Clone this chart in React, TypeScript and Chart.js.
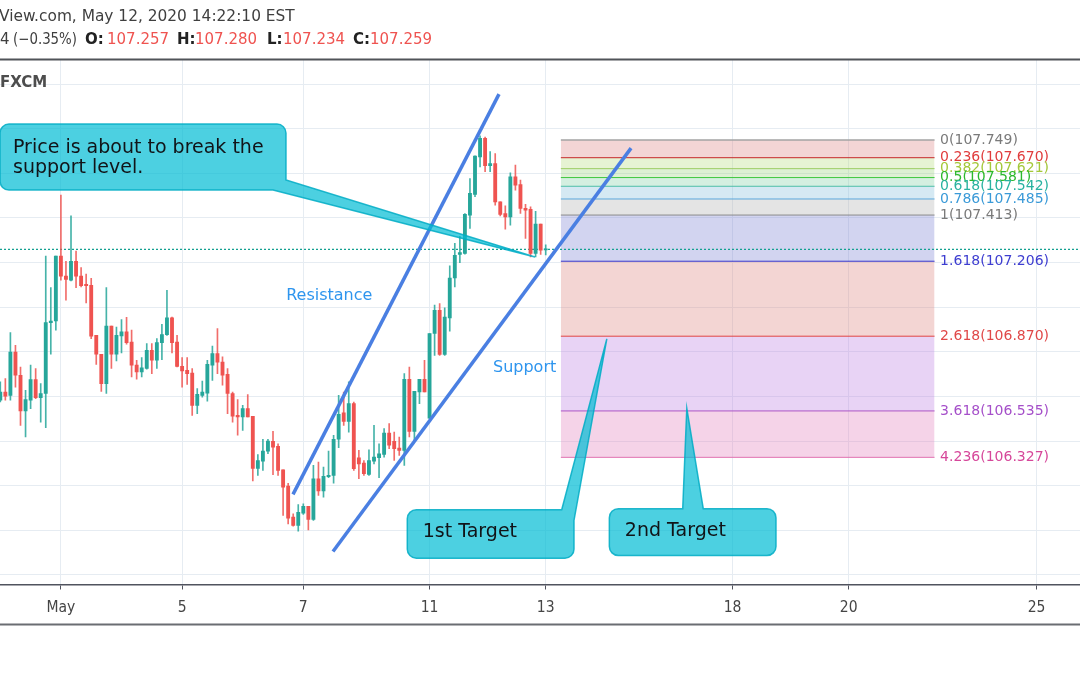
import React, { useEffect, useRef } from 'react';
import { Chart, registerables } from 'chart.js';

Chart.register(...registerables);

// ---- Candle data (2H USD/JPY, FXCM) ----
const opens = [
  106.583, 106.619, 106.605, 106.799, 106.695, 106.535, 106.583, 106.675, 106.595, 106.613,
  106.931, 106.938, 107.229, 107.140, 107.121, 107.206, 107.140, 107.102, 107.098, 106.874,
  106.789, 106.657, 106.915, 106.789, 106.871, 106.889, 106.844, 106.740, 106.710, 106.725,
  106.807, 106.762, 106.841, 106.877, 106.952, 106.844, 106.735, 106.717, 106.705, 106.560,
  106.605, 106.615, 106.740, 106.792, 106.754, 106.699, 106.613, 106.515, 106.508, 106.545,
  106.511, 106.277, 106.310, 106.355, 106.399, 106.376, 106.271, 106.198, 106.059, 106.022,
  106.077, 106.107, 106.049, 106.231, 106.176, 106.240, 106.246, 106.408, 106.526, 106.488,
  106.568, 106.325, 106.301, 106.250, 106.310, 106.325, 106.340, 106.436, 106.399, 106.369,
  106.358, 106.677, 106.443, 106.620, 106.677, 106.503, 106.882, 106.986, 106.788, 106.952,
  107.131, 107.236, 107.241, 107.413, 107.505, 107.674, 107.757, 107.634, 107.644, 107.472,
  107.420, 107.405, 107.584, 107.550, 107.443, 107.439, 107.241, 107.372, 107.257,
];
const highs = [
  106.665, 106.680, 106.886, 106.829, 106.732, 106.627, 106.740, 106.725, 106.658, 107.229,
  107.088, 107.229, 107.502, 107.206, 107.409, 107.251, 107.178, 107.148, 107.129, 106.874,
  106.789, 107.088, 106.915, 106.911, 106.945, 106.954, 106.897, 106.762, 106.774, 106.837,
  106.837, 106.859, 106.923, 107.076, 106.956, 106.874, 106.774, 106.774, 106.725, 106.635,
  106.669, 106.762, 106.826, 106.904, 106.777, 106.725, 106.620, 106.586, 106.560, 106.608,
  106.511, 106.339, 106.408, 106.408, 106.444, 106.388, 106.271, 106.211, 106.074, 106.115,
  106.119, 106.107, 106.291, 106.306, 106.283, 106.355, 106.426, 106.605, 106.620, 106.665,
  106.575, 106.358, 106.313, 106.361, 106.470, 106.388, 106.456, 106.478, 106.440, 106.418,
  106.702, 106.732, 106.623, 106.677, 106.762, 106.882, 107.009, 107.016, 106.997, 107.185,
  107.286, 107.318, 107.420, 107.577, 107.679, 107.768, 107.762, 107.697, 107.689, 107.472,
  107.454, 107.602, 107.637, 107.570, 107.461, 107.450, 107.430, 107.372, 107.280,
];
const lows = [
  106.575, 106.583, 106.583, 106.642, 106.470, 106.418, 106.545, 106.590, 106.485, 106.460,
  106.789, 106.897, 107.121, 107.031, 107.118, 107.088, 107.091, 107.019, 106.859, 106.744,
  106.623, 106.613, 106.725, 106.759, 106.795, 106.834, 106.687, 106.677, 106.687, 106.722,
  106.702, 106.725, 106.765, 106.874, 106.795, 106.732, 106.642, 106.654, 106.515, 106.523,
  106.597, 106.579, 106.672, 106.702, 106.650, 106.523, 106.485, 106.426, 106.448, 106.508,
  106.221, 106.246, 106.268, 106.343, 106.249, 106.246, 106.067, 106.029, 106.019, 105.996,
  106.071, 106.002, 106.044, 106.156, 106.149, 106.236, 106.211, 106.370, 106.470, 106.440,
  106.268, 106.231, 106.246, 106.246, 106.298, 106.236, 106.328, 106.366, 106.313, 106.336,
  106.291, 106.418, 106.403, 106.568, 106.620, 106.500, 106.784, 106.784, 106.784, 106.892,
  107.091, 107.200, 107.238, 107.353, 107.495, 107.629, 107.607, 107.607, 107.457, 107.409,
  107.350, 107.368, 107.525, 107.420, 107.308, 107.225, 107.225, 107.236, 107.234,
];
const closes = [
  106.620, 106.601, 106.799, 106.695, 106.535, 106.586, 106.675, 106.595, 106.613, 106.931,
  106.938, 107.229, 107.139, 107.124, 107.206, 107.139, 107.097, 107.097, 106.870, 106.789,
  106.657, 106.915, 106.789, 106.874, 106.889, 106.841, 106.740, 106.710, 106.728, 106.807,
  106.762, 106.841, 106.877, 106.952, 106.841, 106.735, 106.714, 106.702, 106.560, 106.609,
  106.620, 106.744, 106.792, 106.754, 106.695, 106.613, 106.511, 106.508, 106.545, 106.508,
  106.277, 106.313, 106.355, 106.400, 106.373, 106.268, 106.193, 106.054, 106.022, 106.081,
  106.107, 106.049, 106.231, 106.176, 106.242, 106.246, 106.408, 106.520, 106.488, 106.568,
  106.276, 106.298, 106.254, 106.313, 106.328, 106.343, 106.436, 106.381, 106.366, 106.358,
  106.677, 106.443, 106.623, 106.677, 106.620, 106.882, 106.986, 106.788, 106.956, 107.131,
  107.233, 107.245, 107.416, 107.510, 107.677, 107.757, 107.634, 107.644, 107.472, 107.416,
  107.405, 107.584, 107.547, 107.443, 107.435, 107.241, 107.372, 107.256, 107.259,
];

// ---- Axis ticks ----
const tickSlots = [12, 36, 60, 85, 108, 145, 168, 205.2];
const tickLabels = ['May', '5', '7', '11', '13', '18', '20', '25'];
const gridPrices = [105.8, 106.0, 106.2, 106.4, 106.6, 106.8, 107.0, 107.2, 107.4, 107.6, 107.8, 108.0];
const xMin = -0.06;
const xMax = 213.8;
const yMin = 105.757;
const yMax = 108.108;

// ---- Fibonacci extension ----
const fibRatios = [0, 0.236, 0.382, 0.5, 0.618, 0.786, 1, 1.618, 2.618, 3.618, 4.236];
const fibPrices = [107.749, 107.67, 107.621, 107.581, 107.542, 107.485, 107.413, 107.206, 106.87, 106.535, 106.327];
const fibLineColors = ['#a3a3a3', '#c62828', '#9ccc65', '#3cc63c', '#4dbfa8', '#5aa8dc', '#8a8a8a', '#3535cc', '#e04545', '#ad55c4', '#e071b0'];
const fibFillColors = [
  'rgba(0,0,0,0)', 'rgba(221,135,135,0.35)', 'rgba(184,221,129,0.35)', 'rgba(158,212,129,0.35)',
  'rgba(132,209,166,0.35)', 'rgba(135,192,221,0.35)', 'rgba(178,178,178,0.35)', 'rgba(126,132,212,0.35)',
  'rgba(221,135,129,0.35)', 'rgba(189,129,226,0.35)', 'rgba(226,129,189,0.35)',
];
const fibLabelColors = ['#7a7a7a', '#e03c3c', '#a4c83a', '#2cb82c', '#28b2a0', '#3a9ad8', '#7a7a7a', '#3d3dd0', '#e04848', '#a54fc9', '#d6479a'];
const fibStartSlot = 111.0;
const fibEndSlot = 185.0;
const fibLabelSlot = 186.1;

// ---- Trend lines ----
const resistanceLine = [{ x: 57.96, y: 106.161 }, { x: 98.75, y: 107.955 }];
const supportLine = [{ x: 65.88, y: 105.905 }, { x: 124.9, y: 107.713 }];
const lineLabels = ['Resistance', 'Support'];
const lineLabelSlots = [56.6, 97.56];
const lineLabelPrices = [107.049, 106.726];

// ---- Callouts ----
const calloutTexts = [['Price is about to break the', 'support level.'], ['1st Target'], ['2nd Target']];
const calloutBoxSlots = [[-0.06, 56.57], [80.59, 113.6], [120.6, 153.6]];
const calloutBoxPrices = [[107.821, 107.525], [106.092, 105.875], [106.097, 105.887]];
const calloutTipSlots = [105.88, 120.1, 135.94];
const calloutTipPrices = [107.225, 106.858, 106.547];
// pointer base: kind, slot on horizontal edge, second value (price on right edge or slot on top edge)
const calloutPointerKinds = ['br', 'tr', 'top'];
const calloutPointerA = [54.0, 111.17, 135.13];
const calloutPointerB = [107.57, 106.044, 139.2];

const UP = '#26a69a';
const DOWN = '#ef5350';
const TREND = '#4a7fe2';

const overlayPlugin = {
  id: 'overlay',
  beforeDraw(chart: any) {
    const { ctx, width, height } = chart;
    ctx.save();
    ctx.fillStyle = '#ffffff';
    ctx.fillRect(0, 0, width, height);
    ctx.restore();
  },
  afterDraw(chart: any) {
    const { ctx, chartArea } = chart;
    const xs = chart.scales.x;
    const ys = chart.scales.y;
    ctx.save();

    // fib labels
    ctx.font = '14px "DejaVu Sans", sans-serif';
    ctx.textBaseline = 'middle';
    ctx.textAlign = 'left';
    fibRatios.forEach((r, k) => {
      ctx.fillStyle = fibLabelColors[k];
      ctx.fillText(`${r}(${fibPrices[k].toFixed(3)})`, xs.getPixelForValue(fibLabelSlot), ys.getPixelForValue(fibPrices[k]));
    });

    // line labels
    ctx.font = '16px "DejaVu Sans", sans-serif';
    ctx.fillStyle = '#2e95ee';
    lineLabels.forEach((t, k) => {
      ctx.fillText(t, xs.getPixelForValue(lineLabelSlots[k]), ys.getPixelForValue(lineLabelPrices[k]));
    });

    // callouts
    calloutTexts.forEach((lines, k) => {
      const L = xs.getPixelForValue(calloutBoxSlots[k][0]);
      const R = xs.getPixelForValue(calloutBoxSlots[k][1]);
      const T = ys.getPixelForValue(calloutBoxPrices[k][0]);
      const B = ys.getPixelForValue(calloutBoxPrices[k][1]);
      const tx = xs.getPixelForValue(calloutTipSlots[k]);
      const ty = ys.getPixelForValue(calloutTipPrices[k]);
      const kind = calloutPointerKinds[k];
      const rad = 9;
      ctx.beginPath();
      ctx.moveTo(L + rad, T);
      if (kind === 'top') {
        ctx.lineTo(xs.getPixelForValue(calloutPointerA[k]), T);
        ctx.lineTo(tx, ty);
        ctx.lineTo(xs.getPixelForValue(calloutPointerB[k]), T);
        ctx.lineTo(R - rad, T);
        ctx.arcTo(R, T, R, T + rad, rad);
      } else if (kind === 'tr') {
        ctx.lineTo(xs.getPixelForValue(calloutPointerA[k]), T);
        ctx.lineTo(tx, ty);
        ctx.lineTo(R, ys.getPixelForValue(calloutPointerB[k]));
      } else {
        ctx.lineTo(R - rad, T);
        ctx.arcTo(R, T, R, T + rad, rad);
      }
      if (kind === 'br') {
        ctx.lineTo(R, ys.getPixelForValue(calloutPointerB[k]));
        ctx.lineTo(tx, ty);
        ctx.lineTo(xs.getPixelForValue(calloutPointerA[k]), B);
      } else {
        ctx.lineTo(R, B - rad);
        ctx.arcTo(R, B, R - rad, B, rad);
      }
      ctx.lineTo(L + rad, B);
      ctx.arcTo(L, B, L, B - rad, rad);
      ctx.lineTo(L, T + rad);
      ctx.arcTo(L, T, L + rad, T, rad);
      ctx.closePath();
      ctx.fillStyle = 'rgba(0,188,212,0.7)';
      ctx.fill();
      ctx.lineWidth = 1.5;
      ctx.strokeStyle = 'rgba(0,172,196,0.85)';
      ctx.stroke();

      ctx.fillStyle = '#111418';
      ctx.font = '19px "DejaVu Sans", sans-serif';
      ctx.textBaseline = 'alphabetic';
      if (lines.length > 1) {
        lines.forEach((ln, j) => ctx.fillText(ln, L + 13, T + 29 + j * 19.5));
      } else {
        ctx.textBaseline = 'middle';
        ctx.fillText(lines[0], L + 15.5, (T + B) / 2 - 1.5);
      }
    });

    // header area
    ctx.fillStyle = '#ffffff';
    ctx.fillRect(0, 0, chart.width, chartArea.top - 1);
    ctx.textBaseline = 'middle';
    ctx.textAlign = 'left';
    ctx.fillStyle = '#3f3f3f';
    ctx.font = '15.4px "DejaVu Sans", sans-serif';
    ctx.fillText('View.com, May 12, 2020 14:22:10 EST', -1, 16.5);

    const last = closes.length - 1;
    const segs = [
      { t: '4', x: 0, c: '#3f3f3f', b: false },
      { t: '(\u22120.35%)', x: 13, c: '#3f3f3f', b: false, w: 64 },
      { t: 'O:', x: 85, c: '#222', b: true },
      { t: opens[last].toFixed(3), x: 107, c: DOWN, b: false },
      { t: 'H:', x: 177, c: '#222', b: true },
      { t: highs[last].toFixed(3), x: 195, c: DOWN, b: false },
      { t: 'L:', x: 267, c: '#222', b: true },
      { t: lows[last].toFixed(3), x: 283, c: DOWN, b: false },
      { t: 'C:', x: 353, c: '#222', b: true },
      { t: closes[last].toFixed(3), x: 370, c: DOWN, b: false },
    ];
    segs.forEach((s: any) => {
      ctx.font = `${s.b ? 'bold ' : ''}15px "DejaVu Sans", sans-serif`;
      ctx.fillStyle = s.c;
      if (s.w) ctx.fillText(s.t, s.x, 40.5, s.w);
      else ctx.fillText(s.t, s.x, 40.5);
    });

    // separator lines
    ctx.strokeStyle = '#505358';
    ctx.lineWidth = 2;
    ctx.beginPath();
    ctx.moveTo(0, 59.5);
    ctx.lineTo(chart.width, 59.5);
    ctx.stroke();
    ctx.strokeStyle = '#6a6d72';
    ctx.beginPath();
    ctx.moveTo(0, 624.5);
    ctx.lineTo(chart.width, 624.5);
    ctx.stroke();

    // FXCM
    ctx.font = 'bold 15px "DejaVu Sans", sans-serif';
    ctx.fillStyle = '#4d4d4d';
    ctx.fillText('FXCM', 0, 83.5);

    // x tick labels
    ctx.font = '15.5px "DejaVu Sans Condensed", "DejaVu Sans", sans-serif';
    ctx.fillStyle = '#454545';
    ctx.textAlign = 'center';
    tickSlots.forEach((s, k) => {
      ctx.fillText(tickLabels[k], xs.getPixelForValue(s), chartArea.bottom + 23.5);
    });
    ctx.restore();
  },
};

export default function App() {
  const ref = useRef<HTMLCanvasElement>(null);
  useEffect(() => {
    document.body.style.margin = '0';
    const idx = opens.map((_, i) => i);
    const bodyColors = idx.map((i) => (closes[i] >= opens[i] ? UP : DOWN));
    const wickColors = idx.map((i) => (closes[i] >= opens[i] ? 'rgba(38,166,154,0.85)' : 'rgba(239,83,80,0.85)'));
    const last = closes.length - 1;

    const fibSets = fibPrices.map((p, k) => ({
      type: 'line' as const,
      label: `fib ${fibRatios[k]}`,
      data: [{ x: fibStartSlot, y: p }, { x: fibEndSlot, y: p }],
      borderColor: fibLineColors[k],
      borderWidth: k === 0 ? 1.5 : 1,
      pointRadius: 0,
      fill: k === 0 ? false : '-1',
      backgroundColor: fibFillColors[k],
      order: 4,
    }));

    const chart = new Chart(ref.current as HTMLCanvasElement, {
      type: 'bar',
      data: {
        datasets: [
          {
            type: 'line', label: 'Resistance', data: resistanceLine, borderColor: TREND,
            borderWidth: 3.5, pointRadius: 0, fill: false, order: 0,
          },
          {
            type: 'line', label: 'Support', data: supportLine, borderColor: TREND,
            borderWidth: 3.5, pointRadius: 0, fill: false, order: 0,
          },
          {
            type: 'bar', label: 'Body', data: idx.map((i) => ({ x: i, y: [opens[i], closes[i]] })),
            backgroundColor: bodyColors, barThickness: 3.2, grouped: false, minBarLength: 1, order: 1,
          },
          {
            type: 'bar', label: 'Wick', data: idx.map((i) => ({ x: i, y: [lows[i], highs[i]] })),
            backgroundColor: wickColors, barThickness: 1, grouped: false, order: 2,
          },
          {
            type: 'line', label: 'Last', data: [{ x: xMin, y: closes[last] }, { x: xMax, y: closes[last] }],
            borderColor: '#14a091', borderWidth: 1.2, borderDash: [2, 2], pointRadius: 0, fill: false, order: 3,
          },
          ...fibSets,
        ] as any,
      },
      options: {
        responsive: false,
        maintainAspectRatio: false,
        animation: false,
        devicePixelRatio: 1,
        events: [],
        layout: { padding: { top: 60, bottom: 85.5, left: 0, right: 0 } },
        plugins: { legend: { display: false }, tooltip: { enabled: false } },
        scales: {
          x: {
            type: 'linear',
            min: xMin,
            max: xMax,
            offset: false,
            afterBuildTicks: (scale: any) => {
              scale.ticks = tickSlots.map((v) => ({ value: v }));
            },
            ticks: { display: false },
            grid: { color: '#e6ecf2', offset: false, drawTicks: true, tickLength: 5, tickColor: '#50535e', tickWidth: 1 },
            border: { display: true, color: '#50535e', width: 1.5 },
          },
          y: {
            type: 'linear',
            min: yMin,
            max: yMax,
            beginAtZero: false,
            afterBuildTicks: (scale: any) => {
              scale.ticks = gridPrices.map((v) => ({ value: v }));
            },
            ticks: { display: false },
            grid: { color: '#e6ecf2', drawTicks: false },
            border: { display: false },
          },
        },
      } as any,
      plugins: [overlayPlugin],
    });
    return () => chart.destroy();
  }, []);

  return (
    <div style={{ position: 'absolute', left: 0, top: 0, width: 1080, height: 675 }}>
      <canvas ref={ref} width={1080} height={675} style={{ display: 'block', width: 1080, height: 675 }} />
    </div>
  );
}
